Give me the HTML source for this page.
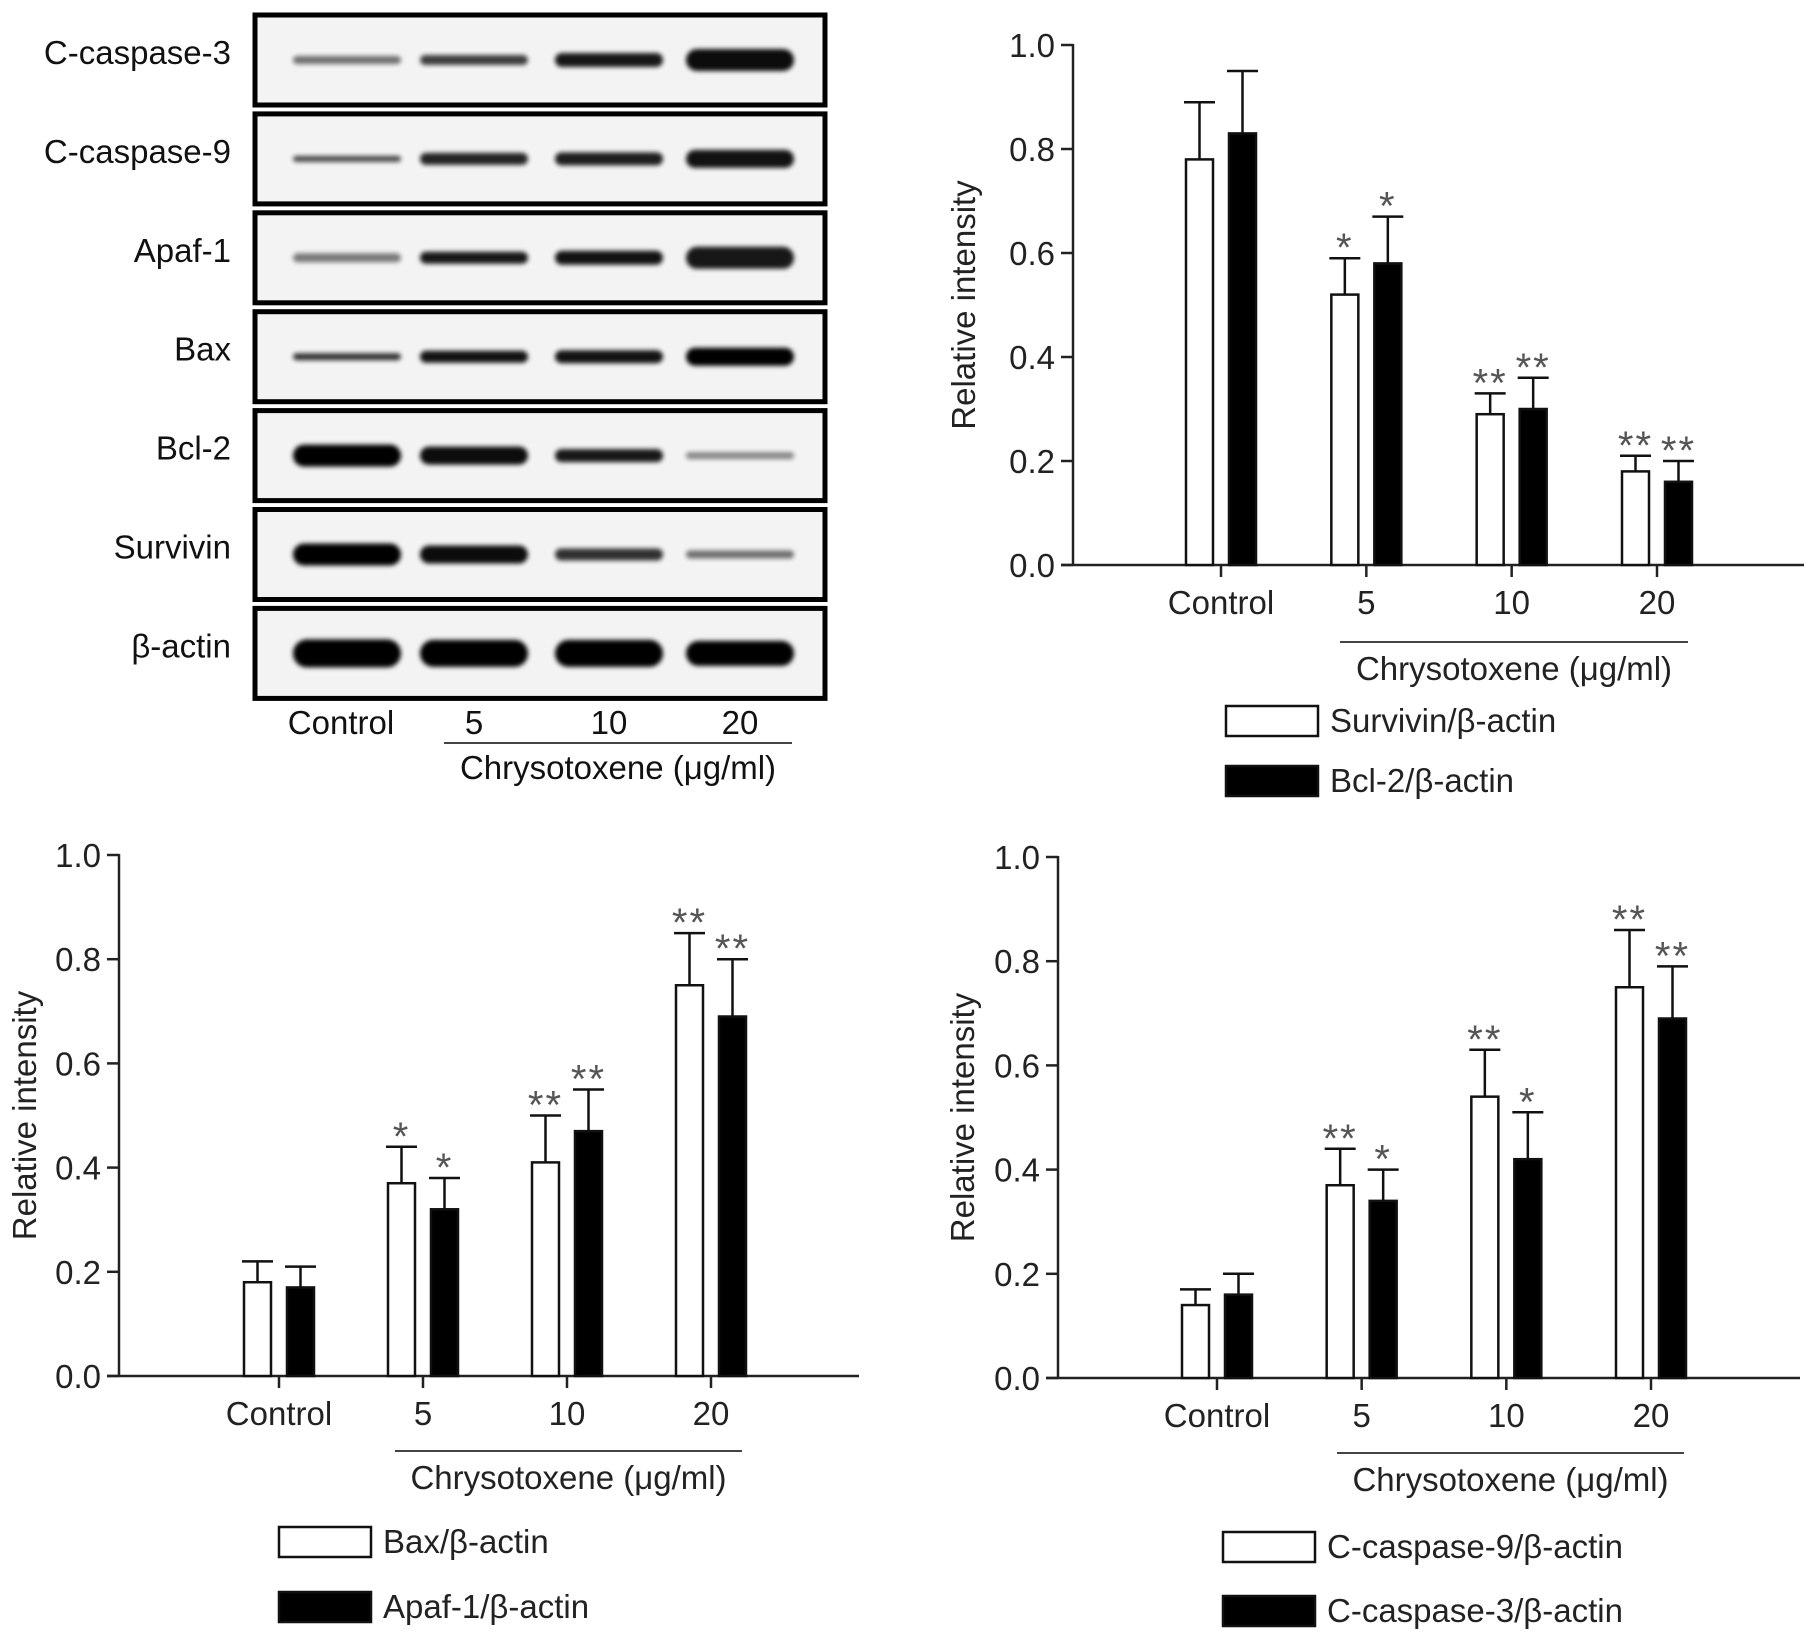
<!DOCTYPE html>
<html><head><meta charset="utf-8"><style>
html,body{margin:0;padding:0;background:#fff;}
svg{display:block;font-family:"Liberation Sans",Arial,sans-serif;}
</style></head><body>
<svg id="fig" width="1813" height="1643" viewBox="0 0 1813 1643" xmlns="http://www.w3.org/2000/svg">
<defs><filter id="blur" x="-20%" y="-100%" width="140%" height="300%"><feGaussianBlur stdDeviation="2.5"/></filter></defs>
<g id="blot"></g>
<g id="c1"></g>
<g id="c2"></g>
<g id="c3"></g>
</svg>
<script>
const NS="http://www.w3.org/2000/svg";
const groups=["Control","5","10","20"];
// blot data
const blotLabels=["C-caspase-3","C-caspase-9","Apaf-1","Bax","Bcl-2","Survivin","β-actin"];
const blotThick=[[8,10,14,22],[6,12,13,18],[9,12,14,22],[7,12,13,18],[22,18,13,7],[22,18,12,8],[28,27,27,25]];
const blotDark=[[.55,.75,.9,.95],[.7,.85,.88,.92],[.5,.9,.92,.9],[.8,.92,.92,1],[1,.95,.9,.45],[1,.95,.8,.55],[1,1,1,1]];
// chart 1
const c1White=[0.78,0.52,0.29,0.18], c1WhiteErr=[0.89,0.59,0.33,0.21];
const c1Black=[0.83,0.58,0.30,0.16], c1BlackErr=[0.95,0.67,0.36,0.20];
const c1WStars=["","*","**","**"], c1BStars=["","*","**","**"];
// chart 2
const c2White=[0.18,0.37,0.41,0.75], c2WhiteErr=[0.22,0.44,0.50,0.85];
const c2Black=[0.17,0.32,0.47,0.69], c2BlackErr=[0.21,0.38,0.55,0.80];
const c2WStars=["","*","**","**"], c2BStars=["","*","**","**"];
// chart 3
const c3White=[0.14,0.37,0.54,0.75], c3WhiteErr=[0.17,0.44,0.63,0.86];
const c3Black=[0.16,0.34,0.42,0.69], c3BlackErr=[0.20,0.40,0.51,0.79];
const c3WStars=["","**","**","**"], c3BStars=["","*","*","**"];
const yTicks=["0.0","0.2","0.4","0.6","0.8","1.0"];
const FS=33;

function el(tag,attrs,parent,text){const e=document.createElementNS(NS,tag);for(const k in attrs)e.setAttribute(k,attrs[k]);if(text!==undefined)e.textContent=text;parent.appendChild(e);return e;}

// Blot
(function(){
 const g=document.getElementById('blot');
 const x0=255,x1=825,top0=15,step=98.9,h=90;
 const lanes=[347,474,609,740];
 blotLabels.forEach((lab,r)=>{
  const y=top0+r*step;
  const p=el('rect',{x:x0,y:y,width:x1-x0,height:h,fill:'#f3f3f3',stroke:'#000','stroke-width':5},g);
  
  
  const t=el('text',{x:231,y:y+h/2+4,'font-size':FS,'text-anchor':'end',fill:'#111'},g,lab);
  
  
  lanes.forEach((cx,i)=>{
   const th=blotThick[r][i],d=blotDark[r][i];
   const b=el('rect',{x:cx-54,y:y+h/2-th/2,width:108,height:th,rx:th/2,fill:'#000',opacity:d,filter:'url(#blur)'},g);
   
   
  });
 });
 groups.forEach((s,i)=>{const t=el('text',{x:lanes[i]-(i==0?6:0),y:734,'font-size':FS,'text-anchor':'middle',fill:'#111'},g,s);
  
  });
 el('line',{x1:444,y1:743,x2:792,y2:743,stroke:'#444','stroke-width':2},g);
 const tt=el('text',{x:618,y:779,'font-size':FS,'text-anchor':'middle',fill:'#111'},g,'Chrysotoxene (μg/ml)');
 
 
})();

function chart(id,cfg){
 const g=document.getElementById(id);
 const {ax,ay0,ay1,xEnd,ticks,wv,we,bv,be,ws,bs,gl,gy,lx,ly,leg1,leg2,ylx}=cfg;
 const ys=v=>ay0-(ay0-ay1)*v;
 const xs=i=>ticks[0]+(ticks[3]-ticks[0])/3*i;
 el('line',{x1:ax,y1:ay1-1,x2:ax,y2:ay0,stroke:'#222','stroke-width':2.5},g);
 el('line',{x1:ax-12,y1:ay0,x2:xEnd,y2:ay0,stroke:'#222','stroke-width':2.5},g);
 yTicks.forEach(t=>{const y=ys(parseFloat(t));
  el('line',{x1:ax-12,y1:y,x2:ax,y2:y,stroke:'#222','stroke-width':2.5},g);
  const tx=el('text',{x:ax-18,y:y+12,'font-size':FS,'text-anchor':'end',fill:'#222'},g,t);
  
  });
 const yl=el('text',{x:0,y:0,'font-size':FS,'text-anchor':'middle',fill:'#222',transform:`translate(${ylx},${(ay0+ay1)/2}) rotate(-90)`},g,'Relative intensity');
 
 
 const bw=27,gap=16;
 groups.forEach((s,i)=>{const cx=xs(i);
  el('line',{x1:cx,y1:ay0,x2:cx,y2:ay0+12,stroke:'#222','stroke-width':2.5},g);
  const tl=el('text',{x:cx,y:ay0+49,'font-size':FS,'text-anchor':'middle',fill:'#222'},g,s);
  
  
  [[wv,we,ws,'#fff',cx-gap/2-bw],[bv,be,bs,'#000',cx+gap/2]].forEach(([v,e,st,f,bx],k)=>{
   const top=ys(v[i]),et=ys(e[i]);
   el('line',{x1:bx+bw/2,y1:top,x2:bx+bw/2,y2:et,stroke:'#111','stroke-width':2.5},g);
   el('line',{x1:bx-2,y1:et,x2:bx+bw+2,y2:et,stroke:'#111','stroke-width':2.5},g);
   const r=el('rect',{x:bx,y:top,width:bw,height:ay0-top,fill:f,stroke:'#111','stroke-width':2.5},g);
   
   
   if(st[i]){const a=el('text',{x:bx+bw/2,y:et+3,'font-size':40,'text-anchor':'middle',fill:'#555','letter-spacing':'2'},g,st[i]);
    
    }
  });
 });
 el('line',{x1:gl[0],y1:gy,x2:gl[1],y2:gy,stroke:'#444','stroke-width':2},g);
 const tt=el('text',{x:(gl[0]+gl[1])/2,y:gy+38,'font-size':FS,'text-anchor':'middle',fill:'#222'},g,'Chrysotoxene (μg/ml)');
 
 
 [[leg1,'#fff',ly[0]],[leg2,'#000',ly[1]]].forEach(([txt,f,y],k)=>{
  const r=el('rect',{x:lx,y:y-15,width:92,height:30,fill:f,stroke:'#111','stroke-width':2.5},g);
  
  
  const t=el('text',{x:lx+104,y:y+11,'font-size':FS,fill:'#222'},g,txt);
  
  
 });
}
chart('c1',{ax:1073,ay0:565,ay1:45,xEnd:1804,ticks:[1221,1365,1511,1657],wv:c1White,we:c1WhiteErr,bv:c1Black,be:c1BlackErr,ws:c1WStars,bs:c1BStars,gl:[1340,1688],gy:642,lx:1226,ly:[721,781],leg1:'Survivin/β-actin',leg2:'Bcl-2/β-actin',ylx:975});
chart('c2',{ax:119,ay0:1376,ay1:855,xEnd:859,ticks:[279,423,566,711],wv:c2White,we:c2WhiteErr,bv:c2Black,be:c2BlackErr,ws:c2WStars,bs:c2BStars,gl:[395,742],gy:1451,lx:279,ly:[1542,1607],leg1:'Bax/β-actin',leg2:'Apaf-1/β-actin',ylx:36});
chart('c3',{ax:1058,ay0:1378,ay1:857,xEnd:1800,ticks:[1217,1362,1506,1651],wv:c3White,we:c3WhiteErr,bv:c3Black,be:c3BlackErr,ws:c3WStars,bs:c3BStars,gl:[1337,1684],gy:1453,lx:1223,ly:[1547,1611],leg1:'C-caspase-9/β-actin',leg2:'C-caspase-3/β-actin',ylx:974});
</script>
</body></html>
